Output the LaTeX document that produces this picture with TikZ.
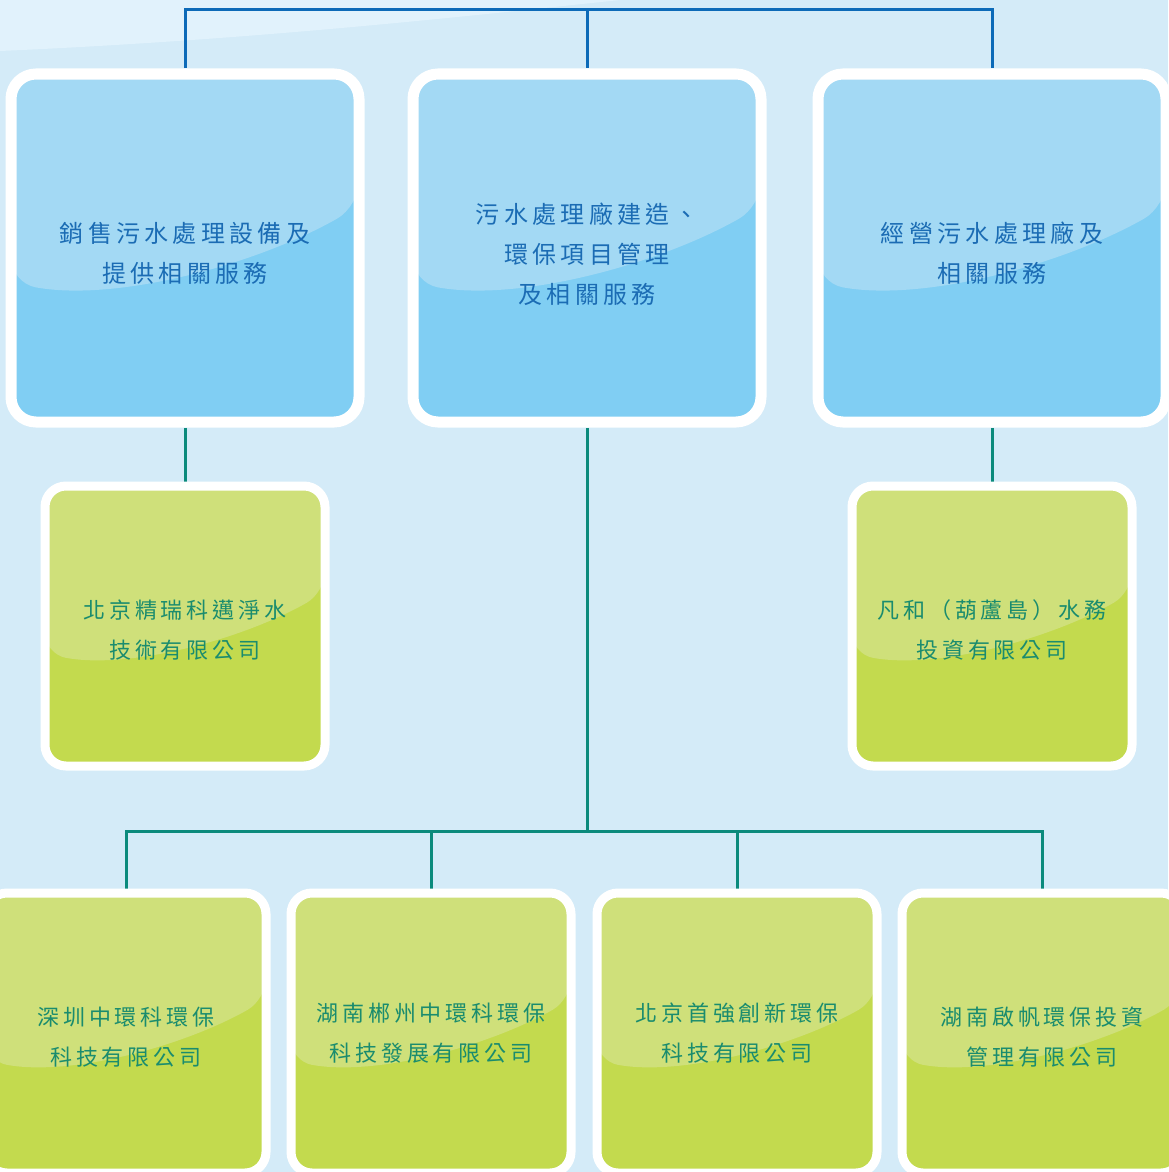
\documentclass[tikz,border=0pt]{standalone}
\usepackage{fontspec}
\newfontfamily\cjk{Noto Sans CJK TC}[LetterSpace=18]
\usetikzlibrary{calc,backgrounds}
\definecolor{bgc}{HTML}{D4EBF8}
\definecolor{sheenc}{HTML}{E1F2FC}
\definecolor{unitlight}{HTML}{A3D9F4}
\definecolor{unitdark}{HTML}{80CEF3}
\definecolor{firmlight}{HTML}{CFE07A}
\definecolor{firmdark}{HTML}{C3DA4E}
\definecolor{unitink}{HTML}{1B6CB4}
\definecolor{firmink}{HTML}{1A8C6E}
\definecolor{toplinkc}{HTML}{0C6AB8}
\definecolor{sublinkc}{HTML}{0B8A7C}
\newcommand\unitfont{\cjk\fontsize{24pt}{40pt}\selectfont}
\newcommand\firmfont{\cjk\fontsize{22pt}{40pt}\selectfont}
\def\ppb{path picture bounding box}

\begin{document}
\begin{tikzpicture}[x=1pt,y=-1pt,
glossy/.style={path picture={\fill[#1] (\ppb.north west) -- (\ppb.north east)
  -- ($(\ppb.north east)!.38!(\ppb.south east)$)
  .. controls ($(\ppb.north west)!.7!(\ppb.north east)+(\ppb.north west)!.55!(\ppb.south west)-(\ppb.north west)$)
  and ($(\ppb.north west)!.3!(\ppb.north east)+(\ppb.north west)!.655!(\ppb.south west)-(\ppb.north west)$)
  .. ($(\ppb.north west)!.6!(\ppb.south west)$) -- cycle;}},
unit/.style={rectangle, draw=white, line width=11pt, rounded corners=25pt, minimum width=348pt, minimum height=348pt, inner sep=0pt, align=center, fill=unitdark, glossy=unitlight, text=unitink, font=\unitfont},
firm/.style={rectangle, draw=white, line width=9pt, rounded corners=21pt, minimum width=280pt, minimum height=280pt, inner sep=0pt, align=center, fill=firmdark, glossy=firmlight, text=firmink, font=\firmfont},
toplink/.style={draw=toplinkc, line width=3pt},
sublink/.style={draw=sublinkc, line width=3pt}]

\useasboundingbox (0,0) rectangle (1168,1172);
\begin{scope}[on background layer]
\fill[bgc] (0,0) rectangle (1168,1172);
\fill[sheenc] (0,51) .. controls (250,40) and (450,18) .. (620,0) -- (0,0) -- cycle;
\end{scope}

\coordinate (top) at (587,10);
\coordinate (hub) at (587,831);

\node[unit] (sales) at (185,248) {\rule{0pt}{30pt}銷售污水處理設備及\\提供相關服務};
\node[unit] (build) at (587,248) {\rule{0pt}{34pt}污水處理廠建造、\\環保項目管理\\及相關服務};
\node[unit] (ops) at (992,248) {\rule{0pt}{30pt}經營污水處理廠及\\相關服務};

\node[firm] (jingrui) at (185,626) {\rule{0pt}{27pt}北京精瑞科邁淨水\\技術有限公司};
\node[firm] (fanhe) at (992,626) {\rule{0pt}{27pt}凡和（葫蘆島）水務\\投資有限公司};

\node[firm] (shenzhen) at (126,1033) {\rule{0pt}{27pt}深圳中環科環保\\科技有限公司};
\node[firm] (chenzhou) at (431,1033) {湖南郴州中環科環保\\科技發展有限公司};
\node[firm] (shouqiang) at (737,1033) {北京首強創新環保\\科技有限公司};
\node[firm] (qifan) at (1042,1033) {\rule{0pt}{27pt}湖南啟帆環保投資\\管理有限公司};

\begin{scope}[on background layer]
\draw[toplink] (sales.north) |- (top) -| (ops.north);
\draw[toplink] (top) -- (build.north);
\draw[sublink] (sales.south) -- (jingrui.north);
\draw[sublink] (ops.south) -- (fanhe.north);
\draw[sublink] (build.south) -- (hub);
\draw[sublink] (shenzhen.north) |- (hub) -| (qifan.north);
\draw[sublink] (chenzhou.north) -- (chenzhou.north |- hub);
\draw[sublink] (shouqiang.north) -- (shouqiang.north |- hub);
\end{scope}
\end{tikzpicture}
\end{document}
